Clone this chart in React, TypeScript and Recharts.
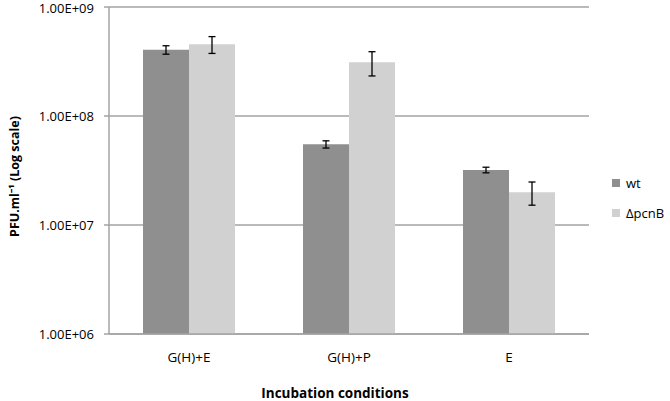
import React from 'react';
import { BarChart, Bar, XAxis, YAxis, CartesianGrid, ErrorBar, Legend, Label } from 'recharts';

const categories = ['G(H)+E', 'G(H)+P', 'E'];
const wtValues = [4.05e8, 5.5e7, 3.2e7];
const wtErrors = [0.36e8, 0.42e7, 0.19e7];
const pcnbValues = [4.55e8, 3.11e8, 2.0e7];
const pcnbErrors = [0.8e8, 0.78e8, 0.48e7];
const yTicks = [1e6, 1e7, 1e8, 1e9];
const seriesNames = ['wt', '\u0394pcnB'];

const data = categories.map((c, i) => ({
  name: c,
  wt: wtValues[i],
  wtErr: wtErrors[i],
  pcnb: pcnbValues[i],
  pcnbErr: pcnbErrors[i],
}));

const FONT = '"Open Sans", sans-serif';
const GRID = '#a3a3a3';

const fmt = (v: number) => {
  const exp = Math.round(Math.log10(v));
  return `1.00E+${exp < 10 ? '0' + exp : exp}`;
};

const renderLegend = (props: any) => {
  const payload = props.payload || [];
  return (
    <div style={{ fontFamily: FONT, fontSize: 13, color: '#000' }}>
      {payload.map((p: any, i: number) => (
        <div key={i} style={{ display: 'flex', alignItems: 'center', height: 16, marginBottom: 14 }}>
          <span style={{ display: 'inline-block', width: 8, height: 8, background: p.color, marginRight: 6 }} />
          <span>{p.value}</span>
        </div>
      ))}
    </div>
  );
};

export default function App() {
  return (
    <div style={{ position: 'absolute', left: 0, top: 0, width: 670, height: 401, background: '#fff' }}>
      <BarChart
        width={670}
        height={401}
        data={data}
        margin={{ top: 7, right: 81, bottom: 0, left: 0 }}
        barGap={0}
        barCategoryGap={34}
        style={{ fontFamily: FONT }}
      >
        <CartesianGrid vertical={false} stroke={GRID} strokeWidth={1.5} />
        <XAxis
          dataKey="name"
          height={67}
          tickLine={false}
          tickSize={0}
          tickMargin={18}
          axisLine={{ stroke: GRID, strokeWidth: 1.5 }}
          tick={{ fill: '#000', fontSize: 13.5, fontFamily: FONT }}
        >
          <Label
            value="Incubation conditions"
            position="insideBottom"
            offset={3}
            dx={-14}
            style={{ fontWeight: 700, fontSize: 13.5, fill: '#000', fontFamily: FONT }}
          />
        </XAxis>
        <YAxis
          width={109}
          scale="log"
          domain={[1e6, 1e9]}
          allowDataOverflow
          ticks={yTicks}
          tickFormatter={fmt}
          tickSize={5}
          tickMargin={10}
          axisLine={{ stroke: GRID, strokeWidth: 1.5 }}
          tickLine={{ stroke: GRID, strokeWidth: 1.5 }}
          tick={{ fill: '#000', fontSize: 13, fontFamily: FONT }}
        >
          <Label
            value={'PFU.ml\u207B\u00B9 (Log scale)'}
            angle={-90}
            position="insideLeft"
            offset={15}
            dy={6}
            style={{ textAnchor: 'middle', fontWeight: 700, fontSize: 12.5, fill: '#000', fontFamily: FONT }}
          />
        </YAxis>
        <Legend
          layout="vertical"
          align="center"
          verticalAlign="middle"
          content={renderLegend}
          wrapperStyle={{ left: 612, top: 175, width: 60, height: 60 }}
        />
        <Bar dataKey="wt" name={seriesNames[0]} fill="#8f8f8f" isAnimationActive={false}>
          <ErrorBar dataKey="wtErr" width={3.5} stroke="#000" strokeWidth={1.3} />
        </Bar>
        <Bar dataKey="pcnb" name={seriesNames[1]} fill="#d1d1d1" isAnimationActive={false}>
          <ErrorBar dataKey="pcnbErr" width={3.5} stroke="#000" strokeWidth={1.3} />
        </Bar>
      </BarChart>
    </div>
  );
}
